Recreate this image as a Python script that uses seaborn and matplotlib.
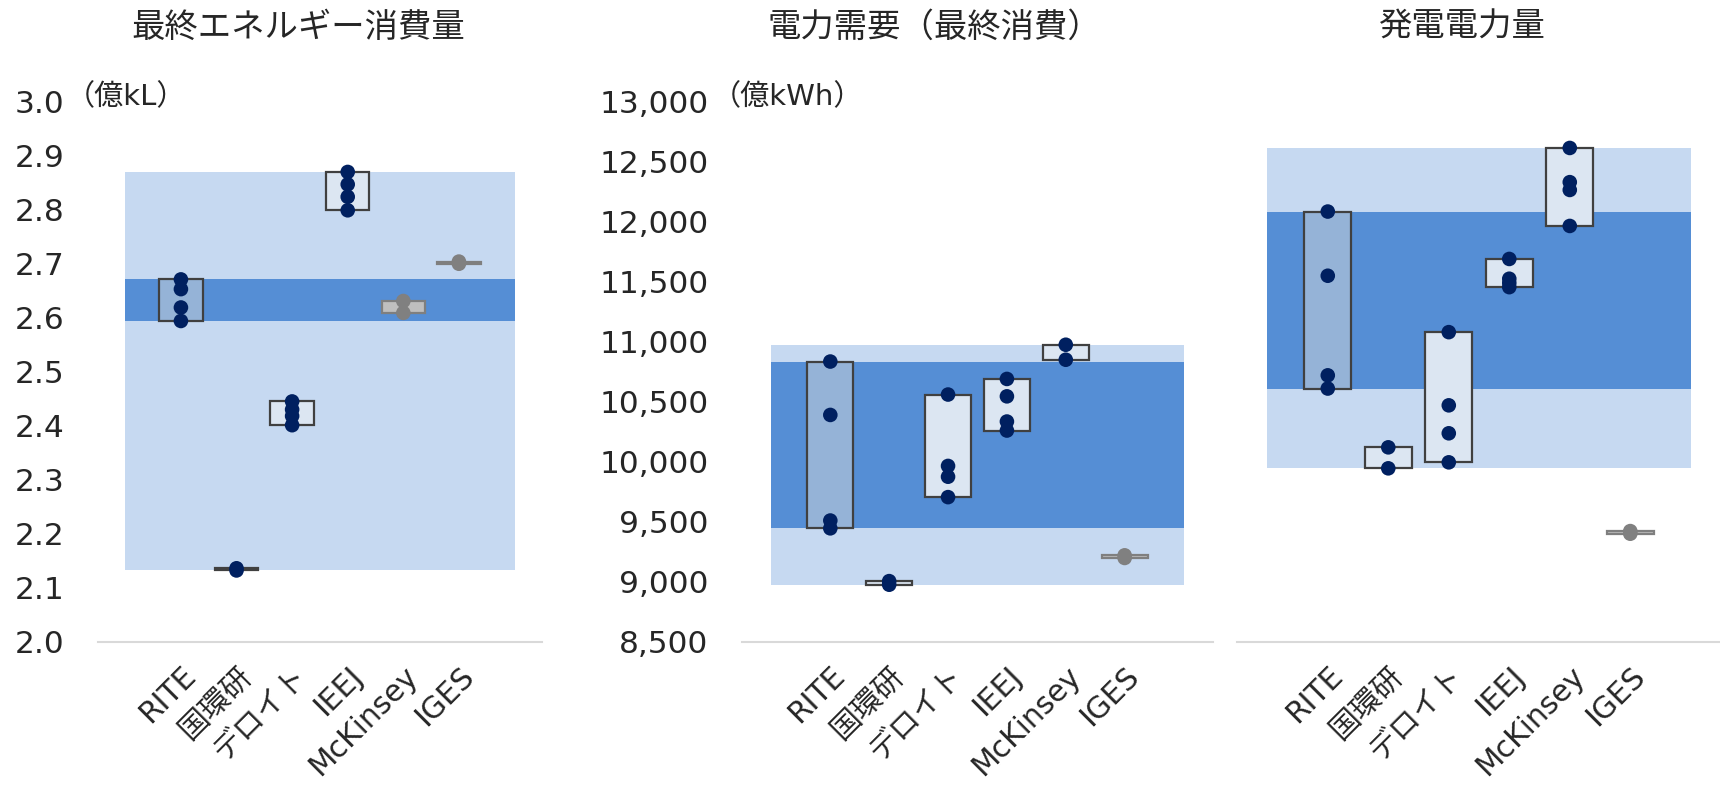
import pandas as pd
import matplotlib
matplotlib.use("Agg")
import matplotlib.pyplot as plt
import seaborn as sns

sns.set_style("white")
plt.rcParams["font.family"] = ["DejaVu Sans", "Noto Sans CJK JP"]

# データ
orgs = ["RITE", "国環研", "デロイト", "IEEJ", "McKinsey", "IGES"]

energy_values = [
    [2.671, 2.653, 2.619, 2.594],
    [2.136, 2.132],
    [2.445, 2.430, 2.418, 2.401],
    [2.870, 2.847, 2.824, 2.799],
    [2.631, 2.609],
    [2.704, 2.700],
]
energy_gray = ["McKinsey", "IGES"]

demand_values = [
    [10835, 10390, 9510, 9445],
    [9005, 8975],
    [10560, 9965, 9875, 9705],
    [10690, 10545, 10335, 10260],
    [10975, 10850],
    [9220, 9198],
]
demand_gray = ["IGES"]

gen_values = [
    [12085, 11550, 10720, 10610],
    [10120, 9945],
    [11080, 10470, 10237, 9995],
    [11690, 11525, 11490, 11455],
    [12615, 12330, 12265, 11965],
    [9422, 9400],
]
gen_gray = ["IGES"]

titles = ["最終エネルギー消費量", "電力需要（最終消費）", "発電電力量"]
units = ["（億kL）", "（億kWh）", None]
ylims = [(2.0, 3.0), (8500, 13000), (8500, 13000)]
yticks = [[2.0 + 0.1 * i for i in range(11)], list(range(8500, 13001, 500)), []]

LIGHT_BAND = "#C6D9F1"
DARK_BAND = "#558ED5"
RITE_FILL = "#95B3D7"
BOX_FILL = "#DCE6F2"
GRAY_FILL = "#BFBFBF"
DOT = "#002060"
GRAY_DOT = "#808080"


def make_df(values, gray):
    rows = []
    for org, vals in zip(orgs, values):
        kind = "gray" if org in gray else "blue"
        for v in vals:
            rows.append({"org": org, "value": v, "kind": kind})
    return pd.DataFrame(rows)


def draw_panel(ax, values, gray):
    df = make_df(values, gray)
    stats = df.groupby("org")["value"].agg(["min", "max"]).reindex(orgs)
    blue = df[df["kind"] == "blue"]

    # 背景の帯（全体レンジとRITEレンジ）
    ax.fill_between([-1, 6], blue["value"].min(), blue["value"].max(),
                    color=LIGHT_BAND, lw=0, zorder=0)
    ax.fill_between([-1, 6], stats.loc["RITE", "min"], stats.loc["RITE", "max"],
                    color=DARK_BAND, lw=0, zorder=0.5)

    # 各機関のレンジボックス
    for i, org in enumerate(orgs):
        lo, hi = stats.loc[org, "min"], stats.loc[org, "max"]
        if org in gray:
            fc, ec = GRAY_FILL, "#7F7F7F"
        elif org == "RITE":
            fc, ec = RITE_FILL, "#404040"
        else:
            fc, ec = BOX_FILL, "#404040"
        ax.bar(i, hi - lo, bottom=lo, width=0.78, color=fc, edgecolor=ec,
               linewidth=1.6, zorder=2)

    sns.stripplot(data=df, x="org", y="value", hue="kind", order=orgs,
                  palette={"blue": DOT, "gray": GRAY_DOT}, jitter=False,
                  size=10.5, linewidth=0, legend=False, ax=ax, zorder=3)


fig = plt.figure(figsize=(17.2, 7.87), dpi=100)
positions = [
    [0.0567, 0.1846, 0.2586, 0.6861],
    [0.4314, 0.1846, 0.2738, 0.6861],
    [0.7192, 0.1846, 0.2814, 0.6861],
]
panel_values = [energy_values, demand_values, gen_values]
panel_gray = [energy_gray, demand_gray, gen_gray]
title_x = [298, 934, 1462]
unit_x = [66, 712]

for k in range(3):
    ax = fig.add_axes(positions[k])
    draw_panel(ax, panel_values[k], panel_gray[k])
    ax.set_xlim(-1.5, 6.5)
    ax.set_ylim(*ylims[k])
    ax.set_xlabel("")
    ax.set_ylabel("")
    ax.set_yticks(yticks[k])
    if k == 0:
        ax.set_yticklabels([f"{t:.1f}" for t in yticks[k]])
    elif k == 1:
        ax.set_yticklabels([f"{t:,}" for t in yticks[k]])
    ax.tick_params(axis="y", length=0, labelsize=22.5, pad=24)
    ax.set_xticks(range(len(orgs)))
    ax.set_xticklabels(orgs, rotation=45, ha="right", rotation_mode="anchor",
                       fontsize=21.5)
    ax.tick_params(axis="x", length=0, pad=14)
    for s in ["top", "right", "left"]:
        ax.spines[s].set_visible(False)
    ax.spines["bottom"].set_color("#D9D9D9")
    ax.spines["bottom"].set_linewidth(1.5)
    fig.text(title_x[k] / 1720, 1 - 27 / 787, titles[k], ha="center",
             va="center", fontsize=24)
    if units[k]:
        fig.text(unit_x[k] / 1720, 1 - 97 / 787, units[k], ha="left",
                 va="center", fontsize=21)

fig.savefig("out.png", dpi=100)
